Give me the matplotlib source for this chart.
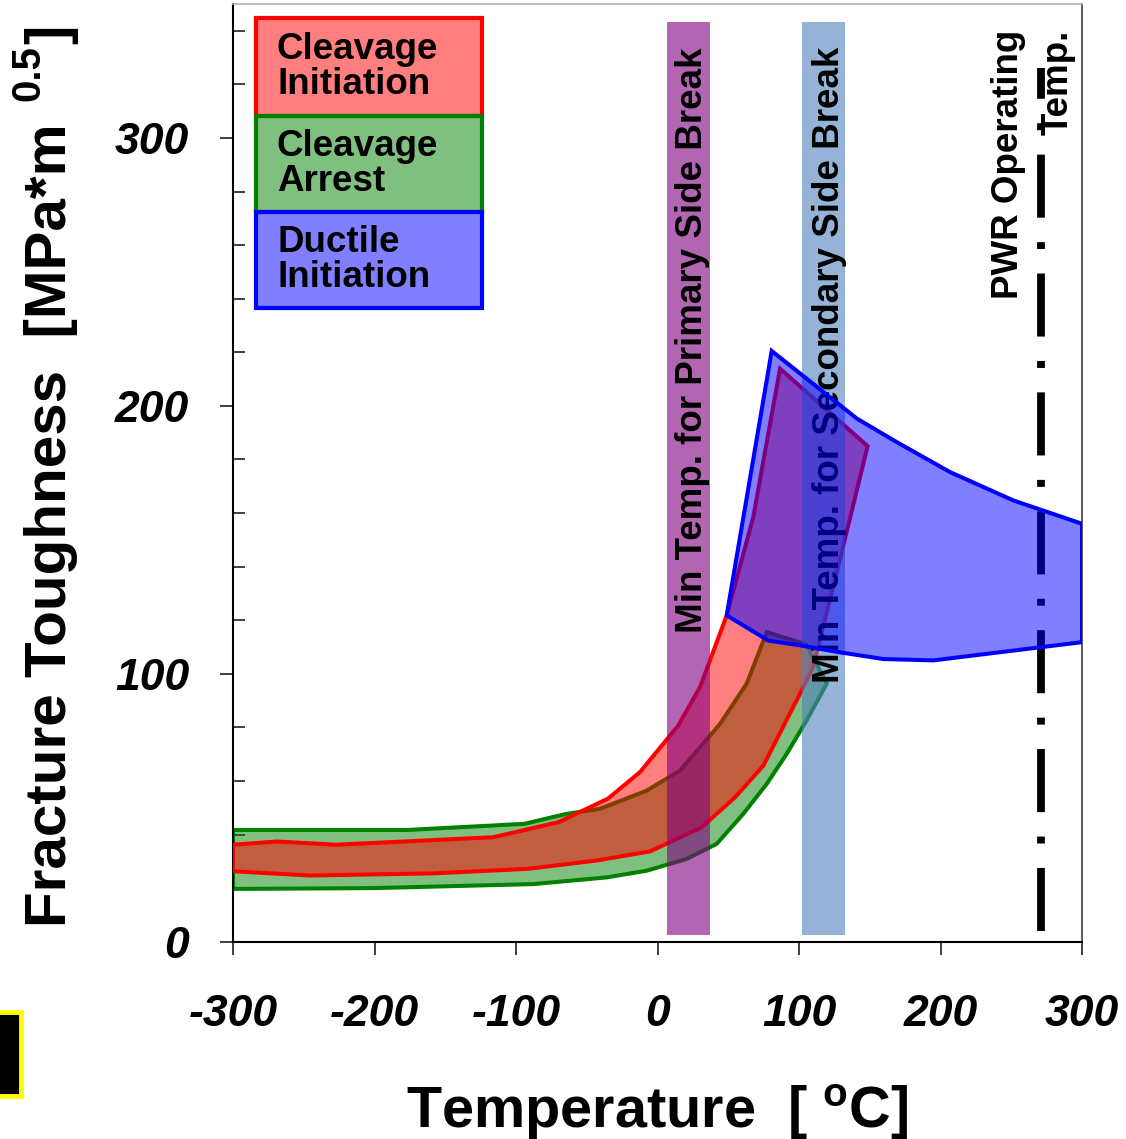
import matplotlib
matplotlib.use('Agg')
import matplotlib.pyplot as plt
from matplotlib.patches import Polygon, Rectangle
from matplotlib.ticker import MultipleLocator, FixedLocator

plt.rcParams['font.family'] = ['Liberation Sans', 'DejaVu Sans']
plt.rcParams['lines.scale_dashes'] = False
plt.rcParams['axes.unicode_minus'] = False
plt.rcParams['mathtext.fontset'] = 'custom'
plt.rcParams['mathtext.rm'] = 'Liberation Sans:bold'
plt.rcParams['mathtext.bf'] = 'Liberation Sans:bold'
plt.rcParams['mathtext.default'] = 'rm'

# ---------------- data ----------------
arrest_upper_x = [-300, -177, -94, -64.5, -40.6, -7.6, 15.9, 44.2, 63, 77.2, 105]
arrest_upper_y = [41.7, 41.7, 44, 47.7, 49.6, 56.4, 63.9, 81.3, 96.3, 115.5, 111]
arrest_lower_x = [-300, -201, -87.8, -35.9, -7.6, 20.6, 41.8, 60.6, 77.2, 91.3, 105.4, 119.6]
arrest_lower_y = [19.7, 20, 21.5, 24, 26.5, 30.9, 36.5, 47.7, 58.9, 70.1, 82.6, 96.3]

init_upper_x = [-300, -269, -227, -116, -70, -35, -12.4, 14.7, 30, 37.1, 48.9, 67.7, 86.6, 148.5]
init_upper_y = [36.2, 37.4, 36.2, 39, 44.6, 53.4, 63.3, 80.7, 95, 105, 121.8, 158.5, 213.9, 185]
init_lower_x = [-300, -245.6, -158.6, -91.5, -43, -5.3, 31.2, 54.8, 74.8, 101.9, 110, 129.4]
init_lower_y = [26.3, 24.7, 25.5, 27.2, 30.3, 33.7, 42.7, 53.9, 65.7, 93.8, 102.6, 143.7]

duct_upper_x = [48.9, 80.7, 140.8, 169, 206.7, 251.5, 300]
duct_upper_y = [121.8, 220.5, 195.3, 186.5, 175.3, 164.7, 156]
duct_lower_x = [48.9, 78.3, 100.7, 129, 159.6, 195, 300]
duct_lower_y = [121.8, 112.4, 110.6, 108, 105.5, 105, 111.8]

band_primary = (6.5, 37.1)
band_secondary = (102.1, 132.5)
band_y = (2.4, 343.3)
pwr_temp = 271
pwr_y = (4, 326)

x_ticks = [-300, -200, -100, 0, 100, 200, 300]
x_tick_labels = ['-300', '-200', '-100', '0', '100', '200', '300']
y_ticks = [0, 100, 200, 300]
y_tick_labels = ['0', '100', '200', '300']

legend_labels = ['Cleavage\nInitiation', 'Cleavage\nArrest', 'Ductile\nInitiation']
legend_colors = ['#FF0000', '#008000', '#0000FF']

# ---------------- figure ----------------
W, H = 1126, 1139
fig = plt.figure(figsize=(W / 100, H / 100), dpi=100)
ax = fig.add_axes([233 / W, 1 - 941.7 / H, (1082 - 233) / W, (941.7 - 4) / H])
ax.set_xlim(-300, 300)
ax.set_ylim(0, 350)


def poly(ux, uy, lx, ly):
    return list(zip(ux, uy)) + list(zip(lx[::-1], ly[::-1]))


ax.add_patch(Polygon(poly(arrest_upper_x, arrest_upper_y, arrest_lower_x, arrest_lower_y),
                     closed=True, facecolor=(0, 0.5, 0, 0.5), edgecolor='#008000', lw=2.9, zorder=2,
                     joinstyle='miter'))
ax.add_patch(Polygon(poly(init_upper_x, init_upper_y, init_lower_x, init_lower_y),
                     closed=True, facecolor=(1, 0, 0, 0.5), edgecolor='#FF0000', lw=2.9, zorder=3,
                     joinstyle='miter'))

ax.axvspan(band_primary[0], band_primary[1], ymin=band_y[0] / 350, ymax=band_y[1] / 350,
           facecolor=(0.5, 0, 0.5, 0.6), edgecolor='none', zorder=4)
ax.axvspan(band_secondary[0], band_secondary[1], ymin=band_y[0] / 350, ymax=band_y[1] / 350,
           facecolor=(79 / 255, 129 / 255, 189 / 255, 0.6), edgecolor='none', zorder=4)

ax.plot([pwr_temp, pwr_temp], list(pwr_y), color='black', lw=5.6,
        linestyle=(0, (45.4, 17.6, 5.0, 17.6)), dash_capstyle='butt', zorder=5)

ax.text(25, 224.6, 'Min Temp. for Primary Side Break', rotation=90, ha='center', va='center',
        fontsize=26.5, fontweight='bold', zorder=5)
ax.text(121.9, 215.3, 'Min Temp. for Secondary Side Break', rotation=90, ha='center', va='center',
        fontsize=26.5, fontweight='bold', zorder=5)
ax.text(265.5, 340.3, 'PWR Operating\nTemp.', rotation=90, ha='center', va='top',
        multialignment='right', fontsize=26.5, fontweight='bold', linespacing=1.55, zorder=5)

ax.add_patch(Polygon(poly(duct_upper_x, duct_upper_y, duct_lower_x, duct_lower_y),
                     closed=True, facecolor=(0, 0, 1, 0.5), edgecolor='#0000FF', lw=2.9, zorder=6,
                     joinstyle='miter'))

# legend boxes (axes fraction)
box_x0, box_x1 = 23 / 849, 249 / 849
box_edges_px = [18, 116, 212, 308]
face_cols = [(1, 0, 0, 0.5), (0, 0.5, 0, 0.5), (0, 0, 1, 0.5)]
for i, (lab, col) in enumerate(zip(legend_labels, legend_colors)):
    y_top = (941.7 - box_edges_px[i]) / 937.7
    y_bot = (941.7 - box_edges_px[i + 1]) / 937.7
    ax.add_patch(Rectangle((box_x0, y_bot), box_x1 - box_x0, y_top - y_bot, transform=ax.transAxes,
                           facecolor=face_cols[i], edgecolor=col, lw=3, zorder=7 + i))
    ax.text(44 / 849, (y_top + y_bot) / 2, lab, transform=ax.transAxes, ha='left', va='center',
            fontsize=26.5, fontweight='bold', linespacing=1.0, zorder=10)

# axes styling
for side in ['left', 'bottom']:
    ax.spines[side].set_color('black')
    ax.spines[side].set_linewidth(1.5)
ax.spines['right'].set_color('#404040')
ax.spines['right'].set_linewidth(1.2)
ax.spines['top'].set_color('#B0B0B0')
ax.spines['top'].set_linewidth(1.2)

ax.xaxis.set_major_locator(FixedLocator(x_ticks))
ax.set_xticklabels(x_tick_labels)
ax.yaxis.set_major_locator(FixedLocator(y_ticks))
ax.set_yticklabels(y_tick_labels)
ax.yaxis.set_minor_locator(MultipleLocator(20))
ax.tick_params(axis='x', which='major', direction='out', length=9.5, width=1.2, pad=28,
               labelsize=32, color='#202020')
ax.tick_params(axis='y', which='major', direction='out', length=9.5, width=1.2, pad=22,
               labelsize=32, color='#202020')
ax.tick_params(axis='y', which='minor', direction='in', length=8.5, width=1.2, color='#202020')
for lab in ax.get_xticklabels() + ax.get_yticklabels():
    lab.set_fontweight('bold')
    lab.set_fontstyle('italic')

# y axis label built from pieces (figure pixel positions -> fraction)
renderer = fig.canvas.get_renderer()
t_main = fig.text(51 / W, 1 - 927 / H, 'Fracture Toughness  [MPa*m', rotation=90,
                  ha='center', va='bottom', fontsize=42, fontweight='bold')
bb = t_main.get_window_extent(renderer)
y_end = bb.y1  # display pixels from bottom
t_sup = fig.text(28 / W, (y_end + 22) / H, '0.5', rotation=90, ha='center', va='bottom',
                 fontsize=29, fontweight='bold')
bb2 = t_sup.get_window_extent(renderer)
fig.text(51 / W, (bb2.y1 + 1) / H, ']', rotation=90, ha='center', va='bottom',
         fontsize=42, fontweight='bold')

fig.text(657 / W, 1 - 1128 / H, r'Temperature  [ $^{o}$C]', ha='center', va='baseline',
         fontsize=41.5, fontweight='bold')

# partial marker at bottom-left edge
fig.add_artist(Rectangle((-12 / W, 1 - 1096 / H), 33 / W, 84 / H, transform=fig.transFigure,
                         facecolor='black', edgecolor='#FFFF00', lw=3.5))

fig.savefig('out.png', dpi=100)
